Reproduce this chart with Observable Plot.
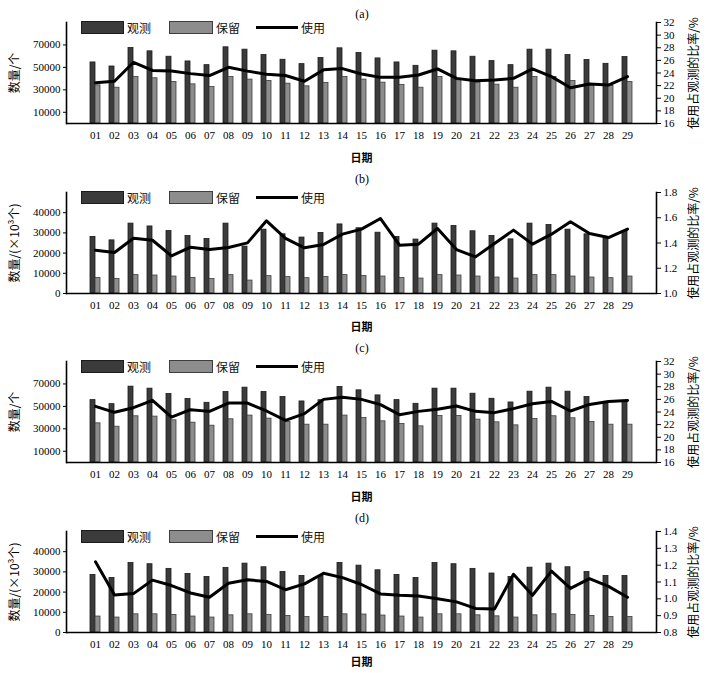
<!DOCTYPE html>
<html>
<head>
<meta charset="utf-8">
<script src="https://cdn.jsdelivr.net/npm/d3@7"></script>
<script src="https://cdn.jsdelivr.net/npm/@observablehq/plot@0.6"></script>
<style>
  html, body { margin: 0; padding: 0; background: #fff; }
  #root { position: relative; width: 721px; height: 673px; overflow: hidden; background: #fff; }
  .panel { position: absolute; left: 0; }
  .ttl { position: absolute; font-family: "Liberation Serif", serif; font-size: 12px; line-height: 12px; transform: translate(-50%, -50%); color: #000; }
  .lg { position: absolute; font-family: "Noto Sans CJK SC", sans-serif; font-size: 12px; line-height: 12px; color: #111; }
  .sw { position: absolute; box-sizing: border-box; }
  svg g[aria-label="y-axis label"] text { font-size: 12px; font-family: "Noto Sans CJK SC", sans-serif; }
  svg g[aria-label="x-axis label"] text { font-size: 11px; font-weight: bold; font-family: "Noto Sans CJK SC", sans-serif; }
</style>
</head>
<body>
<div id="root"></div>
<script>
const dates = ["01","02","03","04","05","06","07","08","09","10","11","12","13","14","15","16","17","18","19","20","21","22","23","24","25","26","27","28","29"];

const panelNames = ["(a)", "(b)", "(c)", "(d)"];
const seriesNames = ["观测", "保留", "使用"];
const xLabel = "日期";
const rightLabel = "使用占观测的比率/%";
const leftLabels = ["数量/个", "数量/(×10³个)", "数量/个", "数量/(×10³个)"];

const obsA = [54400,50800,67300,64300,59500,55300,52000,67900,65800,61000,56800,52900,58300,67000,62800,58000,54400,51400,64900,64300,59500,55600,52000,65800,65800,61000,56500,53200,59200];
const retA = [34000,31900,41500,40300,37000,34900,32500,41500,39100,37900,35500,33100,36100,41500,39100,36400,34300,31900,41500,38500,36400,34600,31900,41500,41500,37900,35000,33400,37000];
const useA = [22.46,22.7,25.7,24.4,24.3,23.9,23.6,24.9,24.3,23.8,23.6,22.7,24.5,24.7,23.84,23.31,23.31,23.68,24.64,23.15,22.78,22.89,23.15,24.64,23.42,21.67,22.25,22.09,23.42];

const obsB = [28000,26300,34600,33200,30900,28500,27000,34600,23200,31600,29300,27700,30000,34200,32300,30100,28000,26700,34600,33400,30800,28500,26800,34600,33900,31600,29300,27700,30800];
const retB = [7700,7200,9100,8900,8400,7700,7200,9100,6400,8600,8100,7600,8200,9100,8700,8400,7700,7400,9100,8900,8400,7900,7400,9100,9100,8400,7900,7600,8400];
const useB = [1.343,1.325,1.438,1.422,1.298,1.367,1.348,1.364,1.401,1.576,1.436,1.362,1.388,1.47,1.51,1.594,1.383,1.391,1.515,1.348,1.29,1.396,1.502,1.391,1.47,1.568,1.475,1.443,1.51];

const obsC = [55600,52000,67600,65800,61000,56500,53200,62800,66700,62800,58300,54400,55500,67300,64300,59800,55600,52300,65800,65800,61300,56800,53500,63100,66700,63100,58300,53800,54700];
const retC = [34900,31900,41200,40900,37600,35500,32800,38500,41800,39100,36100,33700,33700,41800,39700,36700,34300,32200,41500,41500,38200,35800,33100,38800,41200,39400,36100,33700,33700];
const useC = [24.9,23.95,24.68,25.84,23.2,24.37,24.1,25.42,25.42,24.16,22.68,23.74,26.0,26.32,26.0,25.16,23.58,24.1,24.42,24.95,24.1,23.9,24.53,25.3,25.68,24.16,25.2,25.68,25.84];

const obsD = [28500,27000,34400,33800,31500,29000,27500,32000,34100,32300,30000,28000,28000,34400,33100,30800,28500,27000,34400,33800,31500,29200,27500,32100,34100,32300,30000,28000,28000];
const retD = [7900,7400,9000,9000,8700,7900,7400,8500,9000,8700,8200,7700,7700,9000,8900,8400,7900,7400,9000,9000,8500,8000,7400,8500,9000,8700,8200,7700,7700];
const useD = [1.22,1.023,1.031,1.111,1.079,1.035,1.009,1.093,1.113,1.103,1.054,1.089,1.152,1.126,1.085,1.029,1.021,1.017,1.001,0.982,0.943,0.939,1.146,1.021,1.165,1.062,1.12,1.074,1.009];

const leftTicksBig = [10000, 30000, 50000, 70000];
const leftTicksSmall = [0, 10000, 20000, 30000, 40000];
const rightTicksPct = [16, 18, 20, 22, 24, 26, 28, 30, 32];
const rightTicksB = [1.0, 1.2, 1.4, 1.6, 1.8];
const rightTicksD = [0.8, 0.9, 1.0, 1.1, 1.2, 1.3, 1.4];

const panels = [
  {obs: obsA, ret: retA, use: useA, yMax: 90000, yTicks: leftTicksBig, rMin: 16, rMax: 32, rTicks: rightTicksPct, rDigits: 0, svgTop: 0, xLabOff: 38},
  {obs: obsB, ret: retB, use: useB, yMax: 50000, yTicks: leftTicksSmall, rMin: 1.0, rMax: 1.8, rTicks: rightTicksB, rDigits: 1, svgTop: 170, xLabOff: 37},
  {obs: obsC, ret: retC, use: useC, yMax: 90000, yTicks: leftTicksBig, rMin: 16, rMax: 32, rTicks: rightTicksPct, rDigits: 0, svgTop: 339, xLabOff: 38},
  {obs: obsD, ret: retD, use: useD, yMax: 50000, yTicks: leftTicksSmall, rMin: 0.8, rMax: 1.4, rTicks: rightTicksD, rDigits: 1, svgTop: 509, xLabOff: 33}
];

const DARK = "#3b3b3b", DARK_S = "#1c1c1c", LIGHT = "#8d8d8d", LIGHT_S = "#3e3e3e";
const MT = 22, MB = 46, ML = 66, MR = 65, H = 169;
const root = document.getElementById("root");

panels.forEach((p, k) => {
  const toY = r => (r - p.rMin) / (p.rMax - p.rMin) * p.yMax;
  const fromY = y => p.rMin + y / p.yMax * (p.rMax - p.rMin);
  const data = dates.map((d, i) => ({date: d, obs: p.obs[i], ret: p.ret[i], useY: toY(p.use[i])}));
  const chart = Plot.plot({
    width: 721, height: H,
    marginTop: MT, marginBottom: MB, marginLeft: ML, marginRight: MR,
    style: {fontFamily: "'Liberation Serif', 'Noto Sans CJK SC', serif", fontSize: "11px", color: "#000", background: "transparent", overflow: "visible"},
    x: {type: "band", domain: dates, paddingInner: 0.49, paddingOuter: 0.745},
    y: {domain: [0, p.yMax]},
    marks: [
      Plot.barY(data, {x: "date", y: "obs", fill: DARK, stroke: DARK_S, strokeWidth: 0.8, insetRight: 5}),
      Plot.barY(data, {x: "date", y: "ret", fill: LIGHT, stroke: LIGHT_S, strokeWidth: 0.8, insetLeft: 5}),
      Plot.lineY(data, {x: "date", y: "useY", stroke: "#000", strokeWidth: 3, strokeLinejoin: "round"}),
      Plot.axisX({ticks: dates, tickSize: 0, tickPadding: 8, label: xLabel, labelAnchor: "center", labelOffset: p.xLabOff, labelArrow: "none"}),
      Plot.axisY({ticks: p.yTicks, tickSize: 3, tickPadding: 3, tickFormat: d => String(d), label: leftLabels[k], labelAnchor: "center", labelOffset: 56, labelArrow: "none"}),
      Plot.axisY(p.rTicks.map(toY), {anchor: "right", tickSize: 4, tickPadding: 3, tickFormat: d => fromY(d).toFixed(p.rDigits), label: rightLabel, labelAnchor: "center", labelOffset: 41, labelArrow: "none"}),
      Plot.ruleY([0], {stroke: "#000", strokeWidth: 1.6}),
      Plot.frame({anchor: "left", stroke: "#000", strokeWidth: 1.6}),
      Plot.frame({anchor: "right", stroke: "#000", strokeWidth: 1.6})
    ]
  });
  const wrap = document.createElement("div");
  wrap.className = "panel";
  wrap.style.top = p.svgTop + "px";
  wrap.appendChild(chart);
  root.appendChild(wrap);

  const plotTop = p.svgTop + MT;
  const t = document.createElement("div");
  t.className = "ttl";
  t.textContent = panelNames[k];
  t.style.left = "362px";
  t.style.top = (k === 0 ? 13.5 : plotTop - 13) + "px";
  root.appendChild(t);

  const add = (cls, css, text) => {
    const e = document.createElement("div");
    e.className = cls;
    Object.assign(e.style, css);
    if (text) e.textContent = text;
    root.appendChild(e);
  };
  add("sw", {left: "81px", top: (plotTop - 1) + "px", width: "43px", height: "13px", background: DARK, border: "1px solid " + DARK_S});
  add("lg", {left: "127px", top: (plotTop - 0.5) + "px"}, seriesNames[0]);
  add("sw", {left: "169px", top: (plotTop - 1) + "px", width: "44px", height: "13px", background: LIGHT, border: "1px solid " + LIGHT_S});
  add("lg", {left: "216px", top: (plotTop - 0.5) + "px"}, seriesNames[1]);
  add("sw", {left: "256px", top: (plotTop + 4) + "px", width: "42px", height: "3px", background: "#000"});
  add("lg", {left: "301px", top: (plotTop - 0.5) + "px"}, seriesNames[2]);
});
</script>
</body>
</html>
